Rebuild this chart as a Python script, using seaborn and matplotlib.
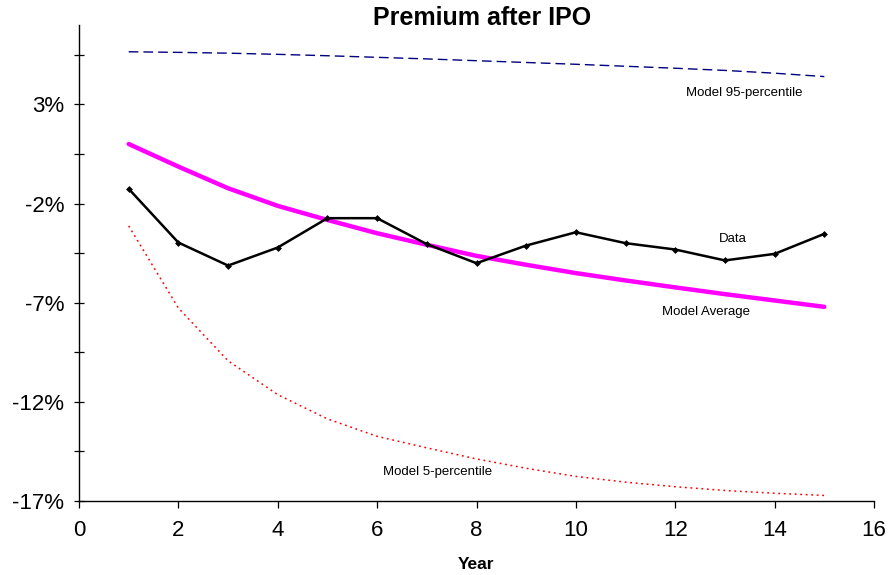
import matplotlib
matplotlib.use("Agg")
import matplotlib.pyplot as plt
import matplotlib.ticker as mticker
import numpy as np
import pandas as pd
import seaborn as sns

# Years after IPO and premium series (in %)
years = list(range(1, 16))
data_premium = [-1.26, -3.97, -5.13, -4.22, -2.74, -2.74, -4.05, -5.01, -4.12, -3.45,
                -4.00, -4.32, -4.87, -4.54, -3.53]
model_average = [1.00, -0.14, -1.23, -2.12, -2.83, -3.50, -4.08, -4.64, -5.09, -5.51,
                 -5.88, -6.23, -6.57, -6.89, -7.21]
model_p95 = [5.65, 5.62, 5.58, 5.52, 5.45, 5.37, 5.29, 5.20, 5.11, 5.02,
             4.92, 4.82, 4.71, 4.57, 4.40]
model_p5 = [-3.13, -7.27, -9.93, -11.64, -12.86, -13.74, -14.32, -14.88, -15.35, -15.76,
            -16.05, -16.28, -16.47, -16.61, -16.72]

y_labels = ["-17%", "-12%", "-7%", "-2%", "3%"]
y_label_values = [-17, -12, -7, -2, 3]

df = pd.DataFrame({
    "Year": years,
    "Data": data_premium,
    "Model Average": model_average,
    "Model 95-percentile": model_p95,
    "Model 5-percentile": model_p5,
})

sns.set_style("white")
plt.rcParams["font.family"] = ["Liberation Sans", "DejaVu Sans"]
plt.rcParams["text.color"] = "black"
plt.rcParams["axes.labelcolor"] = "black"
plt.rcParams["xtick.color"] = "black"
plt.rcParams["ytick.color"] = "black"

fig = plt.figure(figsize=(8.89, 5.75), dpi=100)
ax = fig.add_axes([79 / 889, 74 / 575, (874 - 79) / 889, (501 - 25) / 575])

sns.lineplot(data=df, x="Year", y="Model 95-percentile", ax=ax, color="#000080",
             linewidth=1.0, linestyle=(0, (7, 3.6)))
sns.lineplot(data=df, x="Year", y="Model 5-percentile", ax=ax, color="#ff0000",
             linewidth=1.1, linestyle=(0, (1.2, 2.4)))
sns.lineplot(data=df, x="Year", y="Model Average", ax=ax, color="#ff00ff",
             linewidth=3.2)
sns.lineplot(data=df, x="Year", y="Data", ax=ax, color="black", linewidth=1.8,
             marker="D", markersize=3.5, markeredgewidth=0)

ax.set_xlim(0, 16)
ax.set_ylim(-17, 7)
ax.xaxis.set_major_locator(mticker.MultipleLocator(2))
ax.set_yticks(y_label_values)
ax.set_yticklabels(y_labels)
ax.yaxis.set_minor_locator(mticker.FixedLocator([-14.5, -9.5, -4.5, 0.5, 5.5]))

for side in ["top", "right"]:
    ax.spines[side].set_visible(False)
for side in ["left", "bottom"]:
    ax.spines[side].set_color("black")
    ax.spines[side].set_linewidth(1.0)

ax.tick_params(axis="y", which="both", direction="inout", length=7.5, width=0.9,
               color="black", labelcolor="black", labelsize=16, pad=7, left=True)
ax.tick_params(axis="x", which="major", direction="out", length=5, width=0.9,
               color="black", labelcolor="black", labelsize=16, pad=9, bottom=True)

ax.set_xlabel("Year", fontsize=12.5, fontweight="bold", labelpad=11, color="black")
ax.set_ylabel("")

fig.text(482 / 889, 1 - 18 / 575, "Premium after IPO", ha="center", va="center",
         fontsize=18, fontweight="bold", color="black")

ax.text(13.38, 3.57, "Model 95-percentile", ha="center", va="center", fontsize=9.5)
ax.text(13.15, -3.78, "Data", ha="center", va="center", fontsize=9.5)
ax.text(12.62, -7.46, "Model Average", ha="center", va="center", fontsize=9.5)
ax.text(7.22, -15.55, "Model 5-percentile", ha="center", va="center", fontsize=9.5)

fig.savefig("out.png", dpi=100, facecolor="white")
